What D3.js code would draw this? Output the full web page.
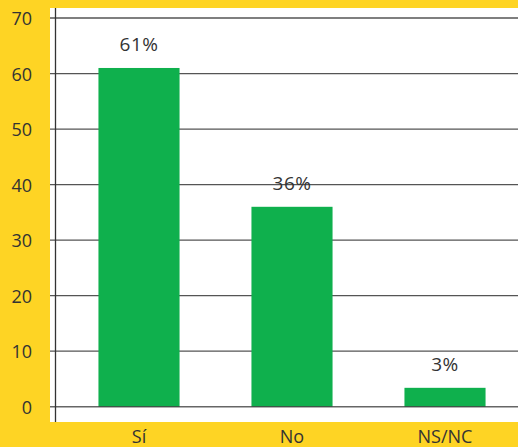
<!DOCTYPE html>
<html>
<head>
<meta charset="utf-8">
<script src="https://cdn.jsdelivr.net/npm/d3@7"></script>
<style>
  body { margin: 0; background: #FED424; }
  svg { display: block; }
  text { font-family: "Open Sans", "Noto Sans", sans-serif; fill: #333; }
</style>
</head>
<body>
<svg id="svg" width="518" height="447"></svg>
<script>
// data
var categories = ["Sí", "No", "NS/NC"];
var values = [61, 36, 3.4];
var valueLabels = ["61%", "36%", "3%"];
var yTicks = [0, 10, 20, 30, 40, 50, 60, 70];

var svg = d3.select("#svg");

var w = 518, h = 447;

// white plot panel
svg.append("rect")
    .attr("x", 50).attr("y", 8)
    .attr("width", w - 50).attr("height", 414)
    .attr("fill", "#fff");

var xScale = d3.scaleBand()
    .domain(categories)
    .range([62.5, 521.5])
    .paddingInner(0.47)
    .paddingOuter(0.235);

var yScale = d3.scaleLinear()
    .domain([0, 70])
    .range([406.7, 18]);

// gridlines
svg.append("g")
    .selectAll("line")
    .data(yTicks.filter(function(d){ return d > 0; }))
    .enter()
    .append("line")
    .attr("x1", 50).attr("x2", w)
    .attr("y1", function(d){ return yScale(d); })
    .attr("y2", function(d){ return yScale(d); })
    .attr("stroke", "#555")
    .attr("stroke-width", 1.3);

// bars
svg.selectAll("rect.bar")
    .data(values)
    .enter()
    .append("rect")
    .attr("class", "bar")
    .attr("x", function(d, i){ return xScale(categories[i]); })
    .attr("y", function(d){ return yScale(d); })
    .attr("width", xScale.bandwidth())
    .attr("height", function(d){ return yScale(0) - yScale(d); })
    .attr("fill", "#0FB04D");

// zero line over bars
svg.append("line")
    .attr("x1", 50).attr("x2", w)
    .attr("y1", yScale(0)).attr("y2", yScale(0))
    .attr("stroke", "#333")
    .attr("stroke-opacity", 0.75)
    .attr("stroke-width", 1.5);

// vertical axis line
svg.append("line")
    .attr("x1", 55.5).attr("x2", 55.5)
    .attr("y1", 8).attr("y2", 422)
    .attr("stroke", "#333")
    .attr("stroke-width", 1.3);

// y tick labels
var yAxis = d3.axisLeft(yScale).tickValues(yTicks).tickSize(0).tickPadding(0);
var gy = svg.append("g")
    .attr("transform", "translate(32,0)")
    .call(yAxis);
gy.select(".domain").remove();
gy.selectAll("text")
    .style("font-size", "18px")
    .attr("fill", "#333")
    .attr("dy", "0.36em");

// x labels
var xAxis = d3.axisBottom(xScale).tickSize(0).tickPadding(0);
var gx = svg.append("g")
    .attr("transform", "translate(0,425)")
    .call(xAxis);
gx.select(".domain").remove();
gx.selectAll("text")
    .style("font-size", "18px")
    .attr("fill", "#333")
    .attr("dy", "1em");

// value labels
svg.selectAll("text.val")
    .data(values)
    .enter()
    .append("text")
    .attr("class", "val")
    .attr("x", function(d, i){ return xScale(categories[i]) + xScale.bandwidth() / 2; })
    .attr("y", function(d){ return yScale(d) - 17; })
    .attr("text-anchor", "middle")
    .style("font-size", "19px")
    .style("letter-spacing", "0.5px")
    .text(function(d, i){ return valueLabels[i]; });
</script>
</body>
</html>
